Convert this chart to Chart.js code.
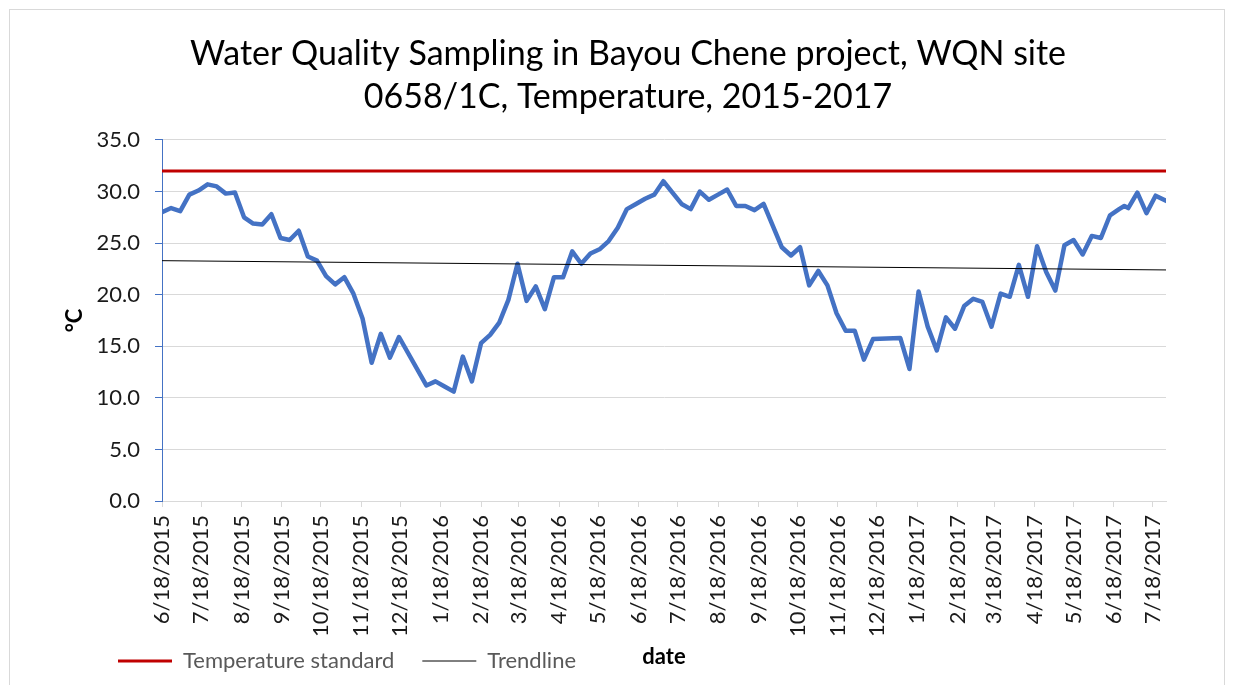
<!DOCTYPE html>
<html><head><meta charset="utf-8">
<script src="https://cdn.jsdelivr.net/npm/chart.js@4.4.1/dist/chart.umd.min.js"></script>
<style>
html,body{margin:0;padding:0;background:#fff;width:1246px;height:685px;overflow:hidden;}
#frame{position:absolute;left:9px;top:9px;width:1214px;height:720px;border:1px solid #d9d9d9;}
#c{position:absolute;left:0;top:0;}
</style></head><body>
<div id="frame"></div>
<canvas id="c" width="1246" height="685"></canvas>
<script>
const chartTitle = ['Water Quality Sampling in Bayou Chene project, WQN site', '0658/1C, Temperature, 2015-2017'];
const xAxisTitle = 'date';
const yAxisTitle = '°C';

const sampleDates = [
 '6/18/2015','6/25/2015','7/2/2015','7/9/2015','7/16/2015','7/23/2015','7/30/2015','8/6/2015','8/13/2015','8/20/2015',
 '8/27/2015','9/3/2015','9/10/2015','9/17/2015','9/24/2015','10/1/2015','10/8/2015','10/15/2015','10/22/2015','10/29/2015',
 '11/5/2015','11/12/2015','11/19/2015','11/26/2015','12/3/2015','12/10/2015','12/17/2015',
 '1/7/2016','1/14/2016','1/21/2016','1/28/2016','2/4/2016','2/11/2016','2/18/2016','2/25/2016','3/3/2016','3/10/2016',
 '3/17/2016','3/24/2016','3/31/2016','4/7/2016','4/14/2016','4/21/2016','4/28/2016','5/5/2016','5/12/2016','5/19/2016',
 '5/26/2016','6/2/2016','6/9/2016','6/16/2016','6/23/2016','6/30/2016','7/7/2016','7/14/2016','7/21/2016','7/28/2016',
 '8/4/2016','8/11/2016','8/18/2016','8/25/2016','9/1/2016','9/8/2016','9/15/2016','9/22/2016','9/29/2016','10/6/2016',
 '10/13/2016','10/20/2016','10/27/2016','11/3/2016','11/10/2016','11/17/2016','11/24/2016','12/1/2016','12/8/2016','12/15/2016',
 '1/5/2017','1/12/2017','1/19/2017','1/26/2017','2/2/2017','2/9/2017','2/16/2017','2/23/2017','3/2/2017','3/9/2017',
 '3/16/2017','3/23/2017','3/30/2017','4/6/2017','4/13/2017','4/20/2017','4/27/2017','5/4/2017','5/11/2017','5/18/2017',
 '5/25/2017','6/1/2017','6/8/2017','6/15/2017','6/22/2017','6/26/2017','6/29/2017','7/6/2017','7/13/2017','7/20/2017','7/28/2017'
];
const temperature = [
 28.0,28.4,28.1,29.7,30.1,30.7,30.5,29.8,29.9,27.5,
 26.9,26.8,27.8,25.5,25.3,26.2,23.7,23.3,21.8,21.0,
 21.7,20.1,17.7,13.4,16.2,13.9,15.9,
 11.2,11.6,11.1,10.6,14.0,11.6,15.3,16.1,17.3,19.5,
 23.0,19.4,20.8,18.6,21.7,21.7,24.2,23.0,24.0,24.4,
 25.2,26.5,28.3,28.8,29.3,29.7,31.0,29.9,28.8,28.3,
 30.0,29.2,29.7,30.2,28.6,28.6,28.2,28.8,26.7,24.6,
 23.8,24.6,20.9,22.3,20.9,18.2,16.5,16.5,13.7,15.7,
 15.8,12.8,20.3,16.9,14.6,17.8,16.7,18.9,19.6,19.3,
 16.9,20.1,19.8,22.9,19.8,24.7,22.2,20.4,24.8,25.3,
 23.9,25.7,25.5,27.7,28.3,28.6,28.4,29.9,27.9,29.6,29.1
];
const standardValues = [32.0, 32.0];
const trendValues = [23.3, 22.4];
const tickLabels = ['6/18/2015','7/18/2015','8/18/2015','9/18/2015','10/18/2015','11/18/2015','12/18/2015',
 '1/18/2016','2/18/2016','3/18/2016','4/18/2016','5/18/2016','6/18/2016','7/18/2016','8/18/2016','9/18/2016',
 '10/18/2016','11/18/2016','12/18/2016','1/18/2017','2/18/2017','3/18/2017','4/18/2017','5/18/2017','6/18/2017','7/18/2017'];
const yTicks = [0, 5, 10, 15, 20, 25, 30, 35];

function toUTC(s){ const p = s.split('/').map(Number); return Date.UTC(p[2], p[0]-1, p[1]); }
const base = toUTC(sampleDates[0]);
const dayOf = s => Math.round((toUTC(s) - base) / 86400000);
const xs = sampleDates.map(dayOf);
const lastDay = xs[xs.length - 1];
const tickPos = tickLabels.map(dayOf);
const tickMap = new Map(tickPos.map((v, i) => [v, tickLabels[i]]));

const FONT = 'Lato, "Open Sans", sans-serif';

new Chart(document.getElementById('c'), {
  type: 'line',
  data: {
    datasets: [
      { label: 'Temperature standard', data: [{x: 0, y: standardValues[0]}, {x: lastDay, y: standardValues[1]}],
        borderColor: '#c00000', borderWidth: 3, pointRadius: 0, pointHoverRadius: 0,
        pointBorderColor: '#c00000', pointBorderWidth: 3, pointStyle: 'line' },
      { label: 'Trendline', data: [{x: 0, y: trendValues[0]}, {x: lastDay, y: trendValues[1]}],
        borderColor: '#000000', borderWidth: 1, pointRadius: 0, pointHoverRadius: 0,
        pointBorderColor: '#000000', pointBorderWidth: 1, pointStyle: 'line' },
      { label: 'Temperature', data: xs.map((x, i) => ({x, y: temperature[i]})),
        borderColor: '#4472c4', borderWidth: 4.5, pointRadius: 0, pointHoverRadius: 0,
        borderJoinStyle: 'round', borderCapStyle: 'round', tension: 0 }
    ]
  },
  options: {
    responsive: false,
    animation: false,
    devicePixelRatio: 1,
    layout: { padding: { left: 90, right: 80, top: 0, bottom: 7 } },
    plugins: {
      tooltip: { enabled: false },
      title: {
        display: true, text: chartTitle, color: '#000',
        font: { family: FONT, size: 34, weight: 'normal', lineHeight: 1.26 },
        padding: { top: 32.5, bottom: 21.8 }
      },
      legend: {
        position: 'bottom', align: 'start', maxHeight: 56,
        labels: {
          usePointStyle: true, pointStyle: 'line', pointStyleWidth: 54, padding: 28,
          color: '#595959', font: { family: FONT, size: 22 },
          filter: item => item.datasetIndex !== 2
        }
      }
    },
    scales: {
      x: {
        type: 'linear', min: 0, max: lastDay,
        afterBuildTicks: s => { s.ticks = tickPos.map(v => ({ value: v })); },
        afterFit: s => { s.height = 121; s._computeLabelArea = () => undefined; },
        grid: { drawOnChartArea: false, color: '#d9d9d9', tickLength: 6 },
        border: { color: '#d9d9d9', width: 1 },
        ticks: { autoSkip: false, minRotation: 90, maxRotation: 90, padding: 8, color: '#1a1a1a',
          font: { family: FONT, size: 22 }, callback: v => tickMap.get(v) ?? '' },
        title: { display: true, text: xAxisTitle, color: '#000', font: { family: FONT, size: 22, weight: 'bold' },
          padding: { top: 0, bottom: -48 } }
      },
      y: {
        min: 0, max: 35,
        afterBuildTicks: s => { s.ticks = yTicks.map(v => ({ value: v })); },
        afterFit: s => { s.width = 72; },
        grid: { color: '#d9d9d9', tickColor: '#4472c4', tickLength: 7, lineWidth: 1 },
        border: { color: '#4472c4', width: 1 },
        ticks: { padding: 15, color: '#1a1a1a', font: { family: FONT, size: 22 }, callback: v => Number(v).toFixed(1) },
        title: { display: true, text: yAxisTitle, color: '#000', font: { family: FONT, size: 22, weight: 'bold' },
          padding: { top: -28, bottom: 0 } }
      }
    }
  }
});
</script>
</body></html>
